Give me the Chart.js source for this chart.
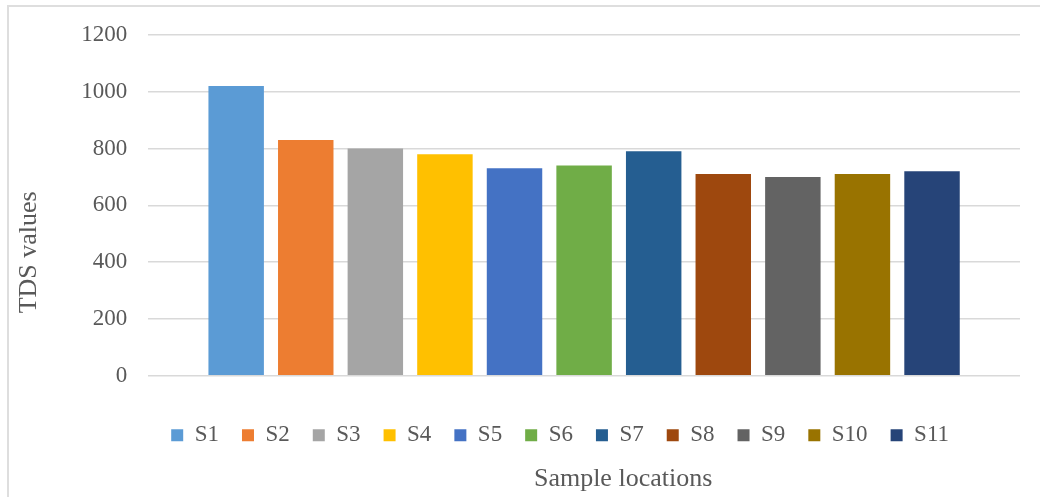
<!DOCTYPE html>
<html>
<head>
<meta charset="utf-8">
<script src="https://cdn.jsdelivr.net/npm/chart.js@4"></script>
<style>
  html, body { margin: 0; padding: 0; background: #fff; }
  #wrap { position: relative; width: 1040px; height: 497px; overflow: hidden; }
  #frame {
    position: absolute; left: 7px; top: 5px; right: -10px; bottom: -10px;
    border-left: 2px solid #dedede; border-top: 2px solid #dedede;
  }
  canvas { position: absolute; left: 0; top: 0; }
</style>
</head>
<body>
<div id="wrap">
  <div id="frame"></div>
  <canvas id="tdsChart" width="1040" height="497"></canvas>
</div>
<script>
const sampleNames = ["S1", "S2", "S3", "S4", "S5", "S6", "S7", "S8", "S9", "S10", "S11"];
const tdsValues = [1020, 830, 800, 780, 730, 740, 790, 710, 700, 710, 720];
const barColors = [
  "#5B9BD5", "#ED7D31", "#A5A5A5", "#FFC000", "#4472C4", "#70AD47",
  "#255E91", "#9E480E", "#636363", "#997300", "#264478",
];
const yTicks = [0, 200, 400, 600, 800, 1000, 1200];

const textColor = "#595959";
const serif = "'Liberation Serif', 'Times New Roman', serif";

// Excel centres the axis titles on the whole frame, not the plot area
const xTitleShift = 39;
const yTitleShift = 47;

const titleNudge = {
  id: "titleNudge",
  afterLayout(chart) {
    chart.boxes.forEach((box) => {
      if (!box.options || box.options.text === undefined) return;
      if (box.options.position === "left") {
        box.top += yTitleShift;
        box.bottom += yTitleShift;
      } else {
        box.left += xTitleShift;
        box.right += xTitleShift;
      }
    });
  },
};

const datasets = sampleNames.map((name, i) => ({
  label: name,
  data: [tdsValues[i]],
  backgroundColor: barColors[i],
  borderWidth: 0,
  categoryPercentage: 0.878,
  barPercentage: 0.797,
}));

const ctx = document.getElementById("tdsChart").getContext("2d");

new Chart(ctx, {
  type: "bar",
  data: {
    labels: [""],
    datasets: datasets,
  },
  plugins: [titleNudge],
  options: {
    responsive: false,
    animation: false,
    layout: {
      padding: { top: 34, right: 20, bottom: 0, left: 0 },
    },
    plugins: {
      tooltip: { enabled: false },
      legend: {
        position: "bottom",
        align: "start",
        fullSize: false,
        labels: {
          color: textColor,
          font: { family: serif, size: 23 },
          boxWidth: 12,
          boxHeight: 12,
          padding: 23,
        },
      },
      title: {
        display: true,
        text: "Sample locations",
        position: "bottom",
        fullSize: false,
        color: textColor,
        font: { family: serif, size: 26, weight: "normal" },
        padding: { top: 7, bottom: 2 },
      },
      subtitle: {
        display: true,
        text: "TDS values",
        position: "left",
        fullSize: false,
        color: textColor,
        font: { family: serif, size: 26, weight: "normal" },
        padding: { top: 14, bottom: 15 },
      },
    },
    scales: {
      x: {
        grid: { display: false },
        border: { display: false },
        ticks: { display: false },
        afterFit: (scale) => {
          scale.height = 25;
        },
      },
      y: {
        min: yTicks[0],
        max: yTicks[yTicks.length - 1],
        ticks: {
          stepSize: yTicks[1] - yTicks[0],
          color: textColor,
          font: { family: serif, size: 23 },
          padding: 21,
          callback: (value) => String(value),
        },
        grid: {
          color: "#d9d9d9",
          lineWidth: 1.5,
          drawTicks: false,
        },
        border: { display: false },
      },
    },
  },
});
</script>
</body>
</html>
